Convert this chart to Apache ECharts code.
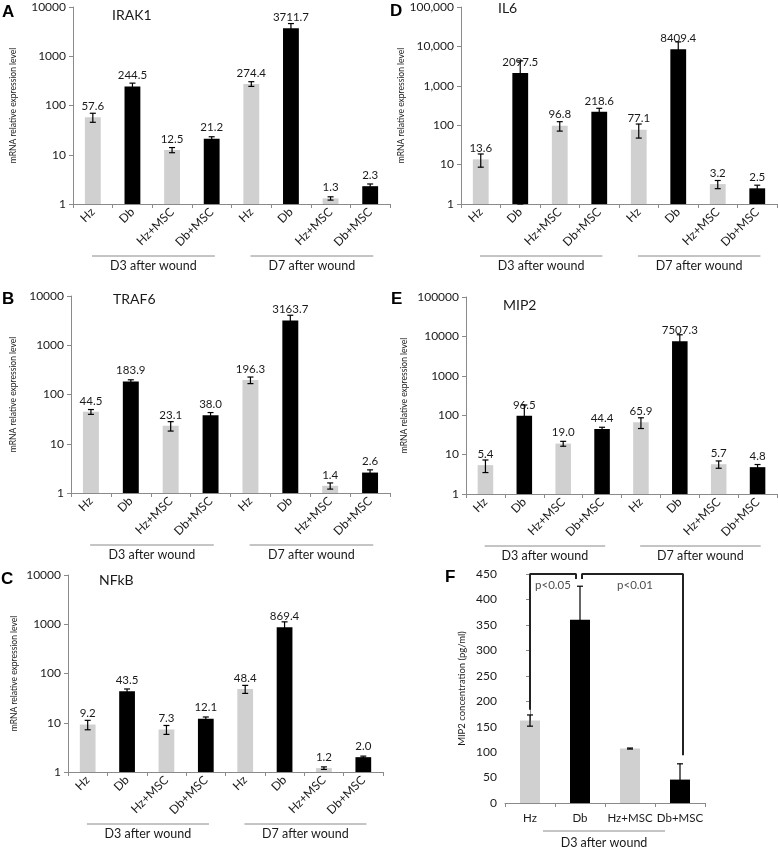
<!DOCTYPE html>
<html><head><meta charset="utf-8">
<script src="https://cdn.jsdelivr.net/npm/echarts@6/dist/echarts.min.js"></script>
<style>html,body{margin:0;padding:0;background:#fff}#c{width:778px;height:847px}</style>
</head><body><div id="c"></div>
<script>
// ---------- data ----------
const categories = ['Hz','Db','Hz+MSC','Db+MSC','Hz','Db','Hz+MSC','Db+MSC'];
const elisaCategories = ['Hz','Db','Hz+MSC','Db+MSC'];
const groupLabels = ['D3 after wound','D7 after wound'];
const elisaGroupLabel = 'D3 after wound';

const irak1    = [57.6, 244.5, 12.5, 21.2, 274.4, 3711.7, 1.3, 2.3];
const irak1Err = [12, 40, 1.5, 2, 30, 900, 0.1, 0.25];
const traf6    = [44.5, 183.9, 23.1, 38.0, 196.3, 3163.7, 1.4, 2.6];
const traf6Err = [5, 15, 5, 5, 30, 900, 0.2, 0.35];
const nfkb     = [9.2, 43.5, 7.3, 12.1, 48.4, 869.4, 1.2, 2.0];
const nfkbErr  = [2, 5, 1.5, 1, 9, 250, 0.07, 0.1];
const il6      = [13.6, 2097.5, 96.8, 218.6, 77.1, 8409.4, 3.2, 2.5];
const il6Err   = [5, 2200, 26, 50, 30, 4600, 0.75, 0.5];
const mip2     = [5.4, 96.5, 19.0, 44.4, 65.9, 7507.3, 5.7, 4.8];
const mip2Err  = [1.9, 85, 2.7, 5, 20, 3500, 1.2, 0.8];

const mip2Protein    = [162, 360, 107, 46];
const mip2ProteinErr = [11, 66, 1, 31];

const bracketPaths = [
  [[0, 183], [0, 450], [0.92, 450], [0.92, 440]],
  [[1.04, 440], [1.04, 450], [3.06, 450], [3.06, 94]]
];
const bracketLabels = [[0.46, 428, 'p<0.05'], [2.1, 428, 'p<0.01']];

// ---------- layout / style ----------
const FONT = 'Lato, "Open Sans", sans-serif';
const TXT = '#1a1a1a';
const AXC = '#8a8a8a';
const GREY = '#d0d0d0';
const BLACK = '#000000';

const panels = [
  {letter:'A', title:'IRAK1', values:irak1, err:irak1Err, max:10000, comma:false,
   grid:{left:73, top:7, width:317, height:197}, nameGap:55, titleXY:[112,15], letterXY:[2,12.5]},
  {letter:'B', title:'TRAF6', values:traf6, err:traf6Err, max:10000, comma:false,
   grid:{left:71, top:296, width:319, height:197}, nameGap:53, titleXY:[113,299], letterXY:[2,299]},
  {letter:'C', title:'NFkB', values:nfkb, err:nfkbErr, max:10000, comma:false,
   grid:{left:68, top:575, width:315, height:197}, nameGap:49, titleXY:[99,580], letterXY:[1,579]},
  {letter:'D', title:'IL6', values:il6, err:il6Err, max:100000, comma:true,
   grid:{left:461, top:7, width:316, height:197}, nameGap:54, titleXY:[498,8], letterXY:[390,11]},
  {letter:'E', title:'MIP2', values:mip2, err:mip2Err, max:100000, comma:false,
   grid:{left:466, top:297, width:311, height:197}, nameGap:57, titleXY:[503,305], letterXY:[391,299.5]}
];
const elisaGrid = {left:505, top:574, width:200, height:229};

function errRender(params, api) {
  const x = api.value(0), lo = api.value(1), hi = api.value(2);
  const a = api.coord([x, hi]);
  const b = api.coord([x, lo]);
  const cw = 3;
  const st = {stroke: '#000', lineWidth: 1.2};
  return {type:'group', children:[
    {type:'line', shape:{x1:a[0], y1:a[1], x2:b[0], y2:b[1]}, style:st},
    {type:'line', shape:{x1:a[0]-cw, y1:a[1], x2:a[0]+cw, y2:a[1]}, style:st},
    {type:'line', shape:{x1:b[0]-cw, y1:b[1], x2:b[0]+cw, y2:b[1]}, style:st}
  ]};
}

const grids = [], xAxes = [], yAxes = [], series = [], graphics = [];

panels.forEach((p, i) => {
  grids.push(Object.assign({containLabel:false}, p.grid));
  xAxes.push({
    type:'category', gridIndex:i, data:categories,
    axisLine:{show:true, lineStyle:{color:AXC, width:1}},
    axisTick:{show:true, length:4, alignWithLabel:false, lineStyle:{color:AXC}},
    axisLabel:{rotate:45, interval:0, fontSize:12, fontFamily:FONT, color:TXT, margin:6},
    splitLine:{show:false}
  });
  yAxes.push({
    type:'log', logBase:10, min:1, max:p.max, gridIndex:i,
    axisLine:{show:true, lineStyle:{color:AXC, width:1}},
    axisTick:{show:true, length:4, lineStyle:{color:AXC}},
    axisLabel:{fontSize:12, fontFamily:FONT, color:TXT, margin:7,
      formatter: v => { const r = Math.round(v); return p.comma ? r.toLocaleString('en-US') : String(r); }},
    splitLine:{show:false}, minorTick:{show:false},
    name:'mRNA relative expression level', nameLocation:'middle', nameGap:p.nameGap,
    nameTextStyle:{fontSize:8.5, fontFamily:FONT, color:TXT}
  });
  series.push({
    type:'bar', xAxisIndex:i, yAxisIndex:i, barWidth:'40%',
    data: p.values.map((v, j) => ({value:v, itemStyle:{color: j % 2 ? BLACK : GREY}})),
    label:{show:true, position:'top', distance:5, fontSize:11.5, fontFamily:FONT, color:TXT,
      formatter: d => d.value.toFixed(1)},
    animation:false
  });
  series.push({
    type:'custom', xAxisIndex:i, yAxisIndex:i, z:5,
    renderItem: errRender,
    data: p.values.map((v, j) => [j, Math.max(v - p.err[j], 1), v + p.err[j]]),
    encode:{x:0, y:[1,2]}, animation:false, silent:true
  });
  graphics.push({type:'text', x:p.letterXY[0], y:p.letterXY[1],
    style:{text:p.letter, fontSize:17, fontWeight:'bold', fontFamily:'"Liberation Sans", Arial, sans-serif',
      fill:'#000', textVerticalAlign:'middle', textAlign:'left'}});
  graphics.push({type:'text', x:p.titleXY[0], y:p.titleXY[1],
    style:{text:p.title, fontSize:14, fontFamily:FONT, fill:TXT, textVerticalAlign:'middle', textAlign:'left'}});
  const g = p.grid, bottom = g.top + g.height, cw = g.width / categories.length;
  groupLabels.forEach((lab, k) => {
    const x1 = g.left + cw * (0.48 + 4 * k), x2 = g.left + cw * (3.58 + 4 * k);
    graphics.push({type:'line', shape:{x1:x1, y1:bottom + 52, x2:x2, y2:bottom + 52},
      style:{stroke:AXC, lineWidth:1}});
    graphics.push({type:'text', x:(x1 + x2) / 2, y:bottom + 62,
      style:{text:lab, fontSize:12.5, fontFamily:FONT, fill:TXT, textAlign:'center', textVerticalAlign:'middle'}});
  });
});

// ---------- panel F ----------
const fi = panels.length;
grids.push(Object.assign({containLabel:false}, elisaGrid));
xAxes.push({
  type:'category', gridIndex:fi, data:elisaCategories,
  axisLine:{show:true, lineStyle:{color:AXC, width:1}},
  axisTick:{show:true, length:4, alignWithLabel:false, lineStyle:{color:AXC}},
  axisLabel:{interval:0, fontSize:11.5, fontFamily:FONT, color:TXT, margin:9},
  splitLine:{show:false}
});
xAxes.push({type:'value', gridIndex:fi, min:-0.5, max:3.5, show:false});
yAxes.push({
  type:'value', gridIndex:fi, min:0, max:450, interval:50,
  axisLine:{show:true, lineStyle:{color:AXC, width:1}},
  axisTick:{show:true, length:4, lineStyle:{color:AXC}},
  axisLabel:{fontSize:12, fontFamily:FONT, color:TXT, margin:8},
  splitLine:{show:false},
  name:'MIP2 concentration (pg/ml)', nameLocation:'middle', nameGap:38,
  nameTextStyle:{fontSize:9.5, fontFamily:FONT, color:TXT}
});
series.push({
  type:'bar', xAxisIndex:fi, yAxisIndex:fi, barWidth:'40%',
  data: mip2Protein.map((v, j) => ({value:v, itemStyle:{color: j % 2 ? BLACK : GREY}})),
  animation:false
});
series.push({
  type:'custom', xAxisIndex:fi, yAxisIndex:fi, z:5, renderItem: errRender,
  data: mip2Protein.map((v, j) => [j, Math.max(v - mip2ProteinErr[j], 0), v + mip2ProteinErr[j]]),
  encode:{x:0, y:[1,2]}, animation:false, silent:true
});
bracketPaths.forEach(path => {
  series.push({type:'line', xAxisIndex:fi + 1, yAxisIndex:fi, data:path, showSymbol:false,
    lineStyle:{color:'#222', width:2}, z:6, animation:false, silent:true});
});
series.push({type:'scatter', xAxisIndex:fi + 1, yAxisIndex:fi, symbolSize:0, z:6,
  data:bracketLabels,
  label:{show:true, position:'inside', formatter: d => d.data[2], fontSize:11.5, fontFamily:FONT, color:TXT},
  animation:false, silent:true});
graphics.push({type:'text', x:445, y:577.5,
  style:{text:'F', fontSize:17, fontWeight:'bold', fontFamily:'"Liberation Sans", Arial, sans-serif',
    fill:'#000', textVerticalAlign:'middle', textAlign:'left'}});
{
  const g = elisaGrid, bottom = g.top + g.height, cw = g.width / elisaCategories.length;
  const x1 = g.left + cw * 0.76, x2 = g.left + cw * 3.2;
  graphics.push({type:'line', shape:{x1:x1, y1:bottom + 28, x2:x2, y2:bottom + 28},
    style:{stroke:AXC, lineWidth:1}});
  graphics.push({type:'text', x:(x1 + x2) / 2, y:bottom + 40,
    style:{text:elisaGroupLabel, fontSize:12.5, fontFamily:FONT, fill:TXT, textAlign:'center', textVerticalAlign:'middle'}});
}

const chart = echarts.init(document.getElementById('c'), null, {renderer:'canvas'});
chart.setOption({
  animation:false,
  backgroundColor:'#fff',
  grid:grids, xAxis:xAxes, yAxis:yAxes, series:series, graphic:graphics
});
</script>
</body></html>
